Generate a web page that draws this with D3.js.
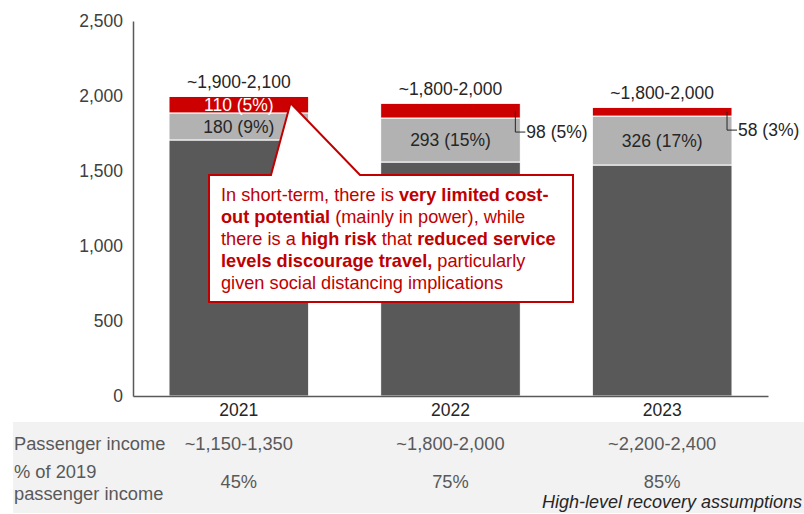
<!DOCTYPE html>
<html>
<head>
<meta charset="utf-8">
<script src="https://cdn.jsdelivr.net/npm/d3@7"></script>
<style>
  html, body { margin: 0; padding: 0; background: #ffffff; }
  svg { display: block; font-family: "Liberation Sans", Arial, sans-serif; }
</style>
</head>
<body>
<svg id="chart" width="804" height="514"></svg>
<script>
// ---------- DATA ----------
const years = ["2021", "2022", "2023"];
const baseValues = [1707, 1560, 1540];       // dark grey
const savingsValues = [180, 293, 326];       // light grey
const riskValues = [110, 98, 58];            // red
const savingsLabels = ["180 (9%)", "293 (15%)", "326 (17%)"];
const riskLabels = ["110 (5%)", "98 (5%)", "58 (3%)"];
const totalLabels = ["~1,900-2,100", "~1,800-2,000", "~1,800-2,000"];
const incomeLabels = ["~1,150-1,350", "~1,800-2,000", "~2,200-2,400"];
const pctLabels = ["45%", "75%", "85%"];
const yTicks = [0, 500, 1000, 1500, 2000, 2500];
const rowTitles = ["Passenger income", ["% of 2019", "passenger income"]];
const footnote = "High-level recovery assumptions";
const calloutLines = [
  [["In short-term, there is ", false], ["very limited cost-", true]],
  [["out potential", true], [" (mainly in power), while", false]],
  [["there is a ", false], ["high risk", true], [" that ", false], ["reduced service", true]],
  [["levels discourage travel,", true], [" particularly", false]],
  [["given social distancing implications", false]]
];

// ---------- STYLE ----------
const C = { dark: "#595959", light: "#b2b2b2", red: "#cc0000", axis: "#595959",
            tick: "#404040", label: "#262626", table: "#595959", tableBg: "#f2f2f2",
            callout: "#c00000" };
const FS = 17.5, FS_CALL = 18.2, FS_TAB = 18.3;

const svg = d3.select("#chart");
const x = d3.scaleBand().domain(years).range([133, 768]).paddingInner(0.34).paddingOuter(0.17);
const y = d3.scaleLinear().domain([0, 2500]).range([396, 21]);
const bw = x.bandwidth();

// stacked data
const rows = years.map((yr, i) => ({ yr, base: baseValues[i], sav: savingsValues[i], risk: riskValues[i] }));
const stack = d3.stack().keys(["base", "sav", "risk"])(rows);
const fills = { base: C.dark, sav: C.light, risk: C.red };

// table background
svg.append("rect").attr("x", 13).attr("y", 422).attr("width", 791).attr("height", 91).attr("fill", C.tableBg);

// bars
stack.forEach(layer => {
  svg.append("g").selectAll("rect").data(layer).join("rect")
    .attr("x", d => x(d.data.yr))
    .attr("y", d => y(d[1]))
    .attr("width", bw)
    .attr("height", d => y(d[0]) - y(d[1]))
    .attr("fill", fills[layer.key])
    .attr("stroke", "#ffffff").attr("stroke-width", 1);
});

// axes
const yAxis = d3.axisLeft(y).tickValues(yTicks).tickSize(0).tickPadding(10).tickFormat(d3.format(","));
const gy = svg.append("g").attr("transform", "translate(133,0)").call(yAxis);
gy.select(".domain").attr("stroke", C.axis).attr("stroke-width", 1.5);
gy.selectAll("text").attr("font-size", FS).attr("fill", C.tick).attr("font-family", "Liberation Sans, Arial, sans-serif");

const xAxis = d3.axisBottom(x).tickSize(0).tickPadding(8);
const gx = svg.append("g").attr("transform", "translate(0," + y(0) + ")").call(xAxis);
gx.select(".domain").attr("stroke", C.axis).attr("stroke-width", 1.5);
gx.selectAll("text").attr("font-size", FS).attr("fill", C.label).attr("font-family", "Liberation Sans, Arial, sans-serif");

// total labels
svg.append("g").selectAll("text").data(rows).join("text")
  .attr("x", d => x(d.yr) + bw / 2)
  .attr("y", d => y(d.base + d.sav + d.risk) - 8)
  .attr("text-anchor", "middle").attr("font-size", FS).attr("fill", C.label)
  .text((d, i) => totalLabels[i]);

// savings labels (inside light grey)
svg.append("g").selectAll("text").data(rows).join("text")
  .attr("x", d => x(d.yr) + bw / 2)
  .attr("y", d => (y(d.base) + y(d.base + d.sav)) / 2)
  .attr("dy", "0.35em")
  .attr("text-anchor", "middle").attr("font-size", FS).attr("fill", C.label)
  .text((d, i) => savingsLabels[i]);

// risk labels: first inside, others with leader lines
rows.forEach((d, i) => {
  const top = y(d.base + d.sav + d.risk), bot = y(d.base + d.sav);
  if (i === 0) {
    svg.append("text").attr("x", x(d.yr) + bw / 2).attr("y", (top + bot) / 2).attr("dy", "0.35em")
      .attr("text-anchor", "middle").attr("font-size", FS).attr("fill", "#ffffff").text(riskLabels[i]);
  } else {
    const lx = x(d.yr) + bw - 5;
    const ly = bot + 14;
    svg.append("path")
      .attr("d", `M${lx},${(top + bot) / 2}V${ly}H${lx + 10}`)
      .attr("fill", "none").attr("stroke", C.label).attr("stroke-width", 1);
    svg.append("text").attr("x", lx + 11).attr("y", ly).attr("dy", "0.35em")
      .attr("font-size", FS).attr("fill", C.label).text(riskLabels[i]);
  }
});

// callout
const r0 = rows[0];
const tipX = x(r0.yr) + bw * 0.87, tipY = y(r0.base + r0.sav + r0.risk * 0.6);
const bx = 209, by = 175, bwid = 364, bh = 127;
svg.append("path")
  .attr("d", `M${bx},${by}H271L${tipX},${tipY}L360,${by}H${bx + bwid}V${by + bh}H${bx}Z`)
  .attr("fill", "#ffffff").attr("stroke", C.callout).attr("stroke-width", 2).attr("stroke-linejoin", "miter");
const ct = svg.append("text").attr("font-size", FS_CALL).attr("fill", C.callout)
  .attr("xml:space", "preserve").style("white-space", "pre");
calloutLines.forEach((line, li) => {
  line.forEach((seg, si) => {
    const t = ct.append("tspan").text(seg[0]).attr("font-weight", seg[1] ? "bold" : "normal");
    if (si === 0) t.attr("x", 221).attr("y", 201 + li * 22);
  });
});

// table
svg.append("text").attr("x", 14).attr("y", 450).attr("font-size", FS_TAB).attr("fill", C.table).text(rowTitles[0]);
const t2 = svg.append("text").attr("font-size", FS_TAB).attr("fill", C.table);
t2.append("tspan").attr("x", 14).attr("y", 478).text(rowTitles[1][0]);
t2.append("tspan").attr("x", 14).attr("y", 500).text(rowTitles[1][1]);
svg.append("g").selectAll("text").data(years).join("text")
  .attr("x", d => x(d) + bw / 2).attr("y", 450).attr("text-anchor", "middle")
  .attr("font-size", FS_TAB).attr("fill", C.table).text((d, i) => incomeLabels[i]);
svg.append("g").selectAll("text").data(years).join("text")
  .attr("x", d => x(d) + bw / 2).attr("y", 488).attr("text-anchor", "middle")
  .attr("font-size", FS_TAB).attr("fill", C.table).text((d, i) => pctLabels[i]);
svg.append("text").attr("x", 802).attr("y", 508).attr("text-anchor", "end")
  .attr("font-size", 18).attr("font-style", "italic").attr("fill", C.label).text(footnote);
</script>
</body>
</html>
